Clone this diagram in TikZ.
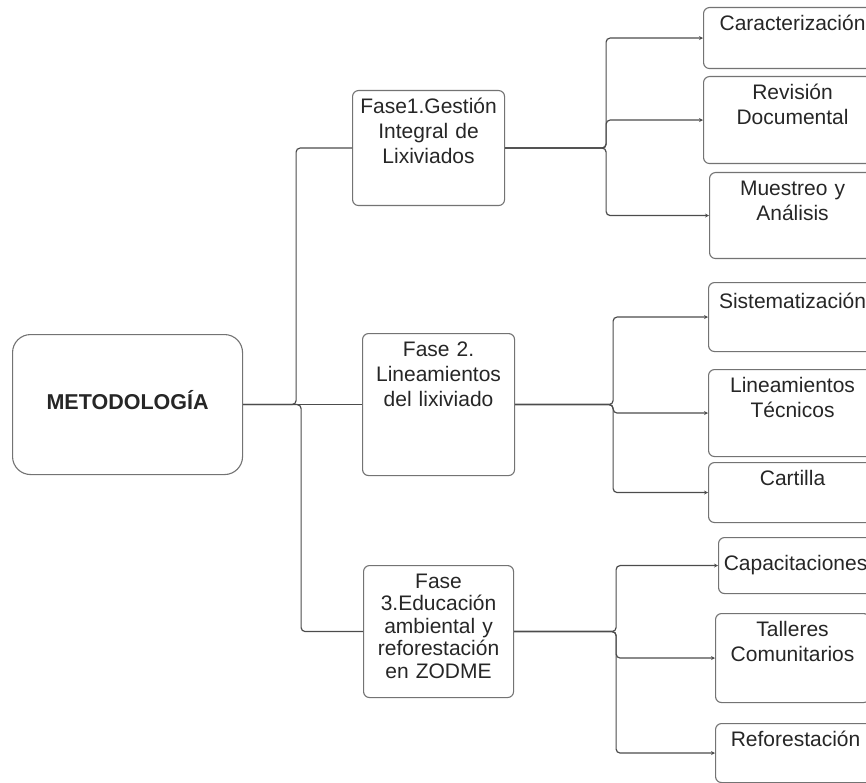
\documentclass[tikz,border=0pt]{standalone}
\usepackage{fontspec}
\setmainfont{Liberation Sans}
\usetikzlibrary{arrows.meta}

\begin{document}
\begin{tikzpicture}[x=1pt,y=-1pt,>={Stealth[length=4pt,width=4pt]},
  every node/.style={draw=black!55,line width=1.1pt,rounded corners=6pt,anchor=north west,
    inner xsep=3pt,inner ysep=7.5pt,align=center,text=black!85,font=\fontsize{21}{25}\selectfont},
  caja/.style={text height=15pt},
  conector/.style={draw=black!70,line width=1.2pt,rounded corners=4pt}]
\useasboundingbox (0,0) rectangle (866,783);
\clip (0,0) rectangle (866,783);
% raiz
\node[rounded corners=18pt,minimum width=230pt,minimum height=140pt,text height=15pt,text depth=6pt,
  font=\fontsize{21.5}{25}\selectfont\bfseries] (met) at (12,334) {METODOLOGÍA};
% fases
\node[caja,text width=146pt,text depth=85pt] (f1) at (352,90) {Fase1.Gestión\\Integral de\\Lixiviados};
\node[caja,text width=146pt,text depth=112pt] (f2) at (362,333) {Fase 2.\\Lineamientos\\del lixiviado};
\node[caja,text width=144pt,text depth=102pt,font=\fontsize{21}{22.5}\selectfont] (f3) at (363,565)
  {Fase\\3.Educación\\ambiental y\\reforestación\\en ZODME};
% actividades
\node[caja,text width=172pt,text depth=31pt] (car) at (703,7) {Caracterización};
\node[caja,text width=172pt,text depth=57pt] (rev) at (703,76) {Revisión\\Documental};
\node[caja,text width=160pt,text depth=56pt] (mue) at (709,172) {Muestreo y\\Análisis};
\node[caja,text width=162pt,text height=18pt,text depth=36pt] (sis) at (708,282) {Sistematización};
\node[caja,text width=162pt,text depth=57pt] (lin) at (708,369) {Lineamientos\\Técnicos};
\node[caja,text width=162pt,text depth=30pt] (cart) at (708,462) {Cartilla};
\node[text width=148pt,minimum height=56pt] (cap) at (718,537) {Capacitaciones};
\node[caja,text width=148pt,text depth=59pt] (tal) at (715,613) {Talleres\\Comunitarios};
\node[caja,text width=154pt,text depth=29pt] (ref) at (715,723) {Reforestación};
% conectores
\draw[conector] (met.east) -- (f2.west);
\draw[conector] (met.east) -- ++(53,0) |- (f1.west);
\draw[conector] (met.east) -- ++(58,0) |- (f3.west);
\foreach \t in {car,rev,mue} \draw[conector,->] (f1.east) -- ++(101,0) |- (\t.west);
\foreach \t in {sis,lin,cart} \draw[conector,->] (f2.east) -- ++(98,0) |- (\t.west);
\foreach \t in {cap,tal,ref} \draw[conector,->] (f3.east) -- ++(102,0) |- (\t.west);
\end{tikzpicture}
\end{document}
